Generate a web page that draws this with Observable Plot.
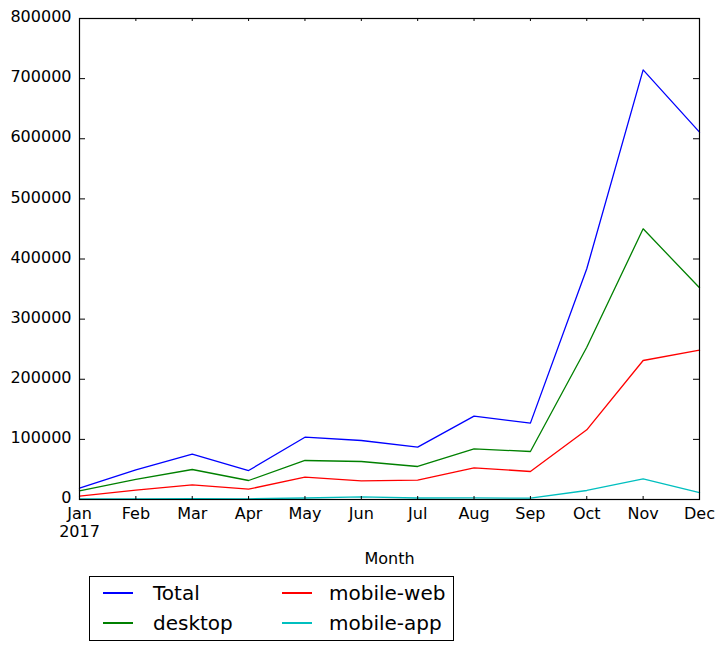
<!DOCTYPE html>
<html>
<head>
<meta charset="utf-8">
<script src="https://cdn.jsdelivr.net/npm/d3@7"></script>
<script src="https://cdn.jsdelivr.net/npm/@observablehq/plot@0.6"></script>
<style>
  html, body { margin: 0; padding: 0; background: #fff; }
  #wrap { position: relative; width: 724px; height: 650px; font-family: "DejaVu Sans", sans-serif; }
  #wrap svg { display: block; }
  #legend { position: absolute; left: 89px; top: 576px; width: 365px; height: 65px; box-sizing: border-box; border: 1px solid #000; }
  .item { position: absolute; display: flex; align-items: center; height: 24px; font-size: 20px; color: #000; }
  .swatch { display: inline-block; width: 30px; height: 1.5px; margin-right: 20px; }
</style>
</head>
<body>
<div id="wrap"></div>
<script>
const months = ["Jan","Feb","Mar","Apr","May","Jun","Jul","Aug","Sep","Oct","Nov","Dec"];
const yearLabel = "2017";
const seriesNames = ["Total","desktop","mobile-web","mobile-app"];
const seriesColors = ["#0000ff","#008000","#ff0000","#00bfbf"];
const total     = [18800, 49400, 75300, 48200, 103600, 98100, 87000, 138600, 127000, 383700, 714600, 611000];
const desktop   = [14400, 33300, 49900, 31600, 64900, 63200, 54900, 84300, 79800, 253300, 450200, 352100];
const mobileWeb = [5500, 15500, 24400, 17200, 37100, 31100, 32100, 52700, 46600, 115900, 231200, 248400];
const mobileApp = [1000, 1200, 1500, 1200, 2500, 4500, 2500, 2800, 2200, 15000, 34400, 11600];
const yTicks = [0,100000,200000,300000,400000,500000,600000,700000,800000];

const seriesValues = [total, desktop, mobileWeb, mobileApp];
const rows = [];
seriesNames.forEach((name, s) => {
  seriesValues[s].forEach((v, i) => rows.push({series: name, i, value: v}));
});
const idx = months.map((_, i) => i);

const W = 724, H = 570, mL = 79, mR = 25, mT = 18, mB = 71;
const plotW = W - mL - mR, plotH = H - mT - mB;

const chart = Plot.plot({
  width: W, height: H,
  marginLeft: mL, marginRight: mR, marginTop: mT, marginBottom: mB,
  style: {fontFamily: "DejaVu Sans", fontSize: "16px", color: "#000", background: "#fff"},
  x: {type: "linear", domain: [0, 11]},
  y: {domain: [0, 800000]},
  color: {domain: seriesNames, range: seriesColors},
  marks: [
    Plot.line(rows, {x: "i", y: "value", z: "series", stroke: "series", strokeWidth: 1.3}),
    Plot.frame({stroke: "#000", strokeWidth: 1.2}),
    Plot.ruleY(yTicks, {y: d => d, insetRight: plotW - 6, stroke: "#000"}),
    Plot.ruleY(yTicks, {y: d => d, insetLeft: plotW - 6, stroke: "#000"}),
    Plot.ruleX(idx, {x: d => d, insetTop: plotH - 3, stroke: "#000"}),
    Plot.ruleX(idx, {x: d => d, insetBottom: plotH - 3, stroke: "#000"}),
    Plot.axisY({ticks: yTicks, tickSize: 0, tickPadding: 8, dy: -1.5, tickFormat: d => String(d), label: null}),
    Plot.axisX({ticks: idx, tickSize: 0, tickPadding: 8, tickFormat: i => months[i], label: null}),
    Plot.text([yearLabel], {x: 0, frameAnchor: "bottom", dy: 37, text: d => d, fill: "#000"}),
    Plot.text(["Month"], {frameAnchor: "bottom", dy: 64, text: d => d, fill: "#000"})
  ]
});
const wrap = document.getElementById("wrap");
wrap.appendChild(chart);

const legend = document.createElement("div");
legend.id = "legend";
const pos = [[13, 4], [13, 34], [192, 4], [192, 34]];
seriesNames.forEach((name, s) => {
  const it = document.createElement("div");
  it.className = "item";
  it.style.left = pos[s][0] + "px";
  it.style.top = pos[s][1] + "px";
  const sw = document.createElement("span");
  sw.className = "swatch";
  sw.style.background = seriesColors[s];
  if (s >= 2) sw.style.marginRight = "17px";
  const tx = document.createElement("span");
  tx.textContent = name;
  it.appendChild(sw); it.appendChild(tx);
  legend.appendChild(it);
});
wrap.appendChild(legend);
</script>
</body>
</html>
